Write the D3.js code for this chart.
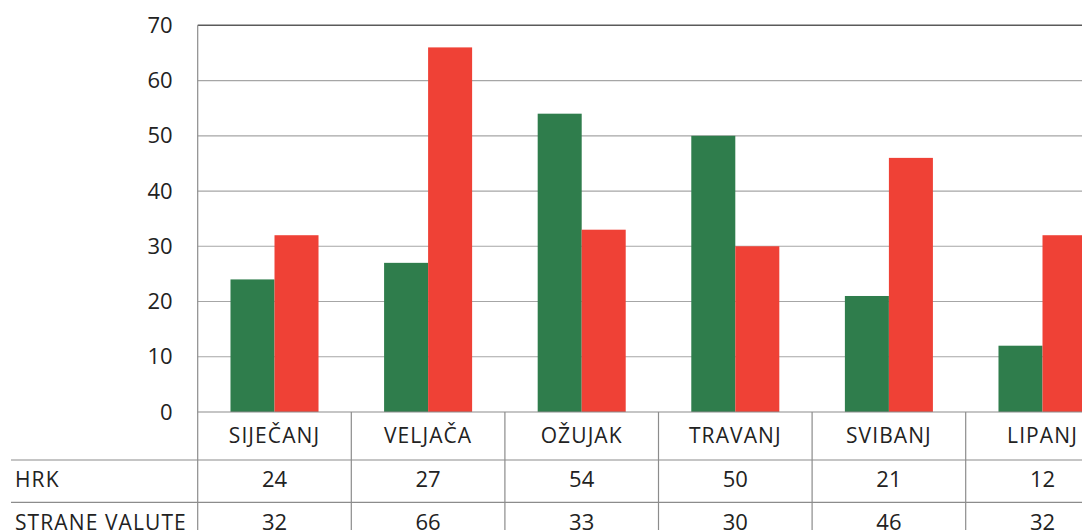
<!DOCTYPE html>
<html><head><meta charset="utf-8">
<script src="https://cdn.jsdelivr.net/npm/d3@7"></script>
<style>
html,body{margin:0;padding:0;background:#fff;overflow:hidden;}
svg text{font-family:"Open Sans",sans-serif;fill:#222;}
</style></head>
<body>
<svg id="c" width="1082" height="530"></svg>
<script>
const categories = ["SIJEČANJ","VELJAČA","OŽUJAK","TRAVANJ","SVIBANJ","LIPANJ"];
const seriesNames = ["HRK","STRANE VALUTE"];
const hrk = [24,27,54,50,21,12];
const strane = [32,66,33,30,46,32];
const yTicks = [0,10,20,30,40,50,60,70];
const colors = ["#2f7d4c","#ef4136"];

const svg = d3.select("#c");
const mLeft = 197.7, mTop = 25.3, mBottom = 412, band = 153.6;
const mRight = mLeft + band*categories.length;
const tableLeft = 11;
const rowH = [460, 502.3, 545];

const x = d3.scaleBand().domain(categories).range([mLeft,mRight]).paddingInner(0).paddingOuter(0);
const xs = d3.scaleBand().domain(seriesNames).range([0,x.bandwidth()]).paddingInner(0).paddingOuter(0.745);
const y = d3.scaleLinear().domain([0,70]).range([mBottom,mTop]);

// y axis labels
const yAxis = d3.axisLeft(y).tickValues(yTicks).tickSize(0).tickPadding(25);
const gy = svg.append("g").attr("transform",`translate(${mLeft},0)`).call(yAxis);
gy.select(".domain").remove();
gy.selectAll("text").style("font-size","22px").attr("fill","#222").style("font-family","'Open Sans',sans-serif");
// gridlines
svg.append("g").selectAll("line").data(yTicks.filter(d=>d>0 && d<70)).join("line")
  .attr("x1",mLeft).attr("x2",mRight).attr("y1",d=>y(d)).attr("y2",d=>y(d))
  .attr("stroke","#a6a6a6").attr("stroke-width",1.2);
svg.append("line").attr("x1",mLeft).attr("x2",mRight).attr("y1",y(70)).attr("y2",y(70))
  .attr("stroke","#5a5a5a").attr("stroke-width",1.6);

// bars
const data = [hrk, strane];
data.forEach((vals,si)=>{
  svg.append("g").selectAll("rect").data(vals).join("rect")
    .attr("x",(d,i)=>x(categories[i])+xs(seriesNames[si]))
    .attr("width",xs.bandwidth())
    .attr("y",d=>y(d)).attr("height",d=>y(0)-y(d))
    .attr("fill",colors[si]);
});

// axis lines
svg.append("line").attr("x1",mLeft).attr("x2",mLeft).attr("y1",mTop).attr("y2",530)
  .attr("stroke","#8c8c8c").attr("stroke-width",1.2);
svg.append("line").attr("x1",mLeft).attr("x2",mRight).attr("y1",mBottom).attr("y2",mBottom)
  .attr("stroke","#8c8c8c").attr("stroke-width",1.2);

// table
const tg = svg.append("g");
tg.selectAll("line.v").data(categories).join("line")
  .attr("x1",d=>x(d)+band).attr("x2",d=>x(d)+band)
  .attr("y1",mBottom).attr("y2",530).attr("stroke","#8c8c8c").attr("stroke-width",1.2);
[rowH[0],rowH[1]].forEach(yy=>{
  tg.append("line").attr("x1",tableLeft).attr("x2",mRight).attr("y1",yy).attr("y2",yy)
    .attr("stroke","#8c8c8c").attr("stroke-width",1.2);
});
tg.selectAll("text.cat").data(categories).join("text")
  .attr("x",d=>x(d)+x.bandwidth()/2).attr("y",(mBottom+rowH[0])/2)
  .attr("dy","0.35em").attr("text-anchor","middle")
  .style("font-size","21px").style("letter-spacing","1.1px").text(d=>d);
data.forEach((vals,si)=>{
  const yc = (rowH[si]+rowH[si+1])/2 - 1.5;
  tg.append("text").attr("x",15).attr("y",yc).attr("dy","0.35em")
    .style("font-size","21px").style("letter-spacing","1.1px").text(seriesNames[si]);
  tg.selectAll(null).data(vals).join("text")
    .attr("x",(d,i)=>x(categories[i])+x.bandwidth()/2).attr("y",yc).attr("dy","0.35em")
    .attr("text-anchor","middle").style("font-size","22px").text(d=>d);
});
</script>
</body></html>
